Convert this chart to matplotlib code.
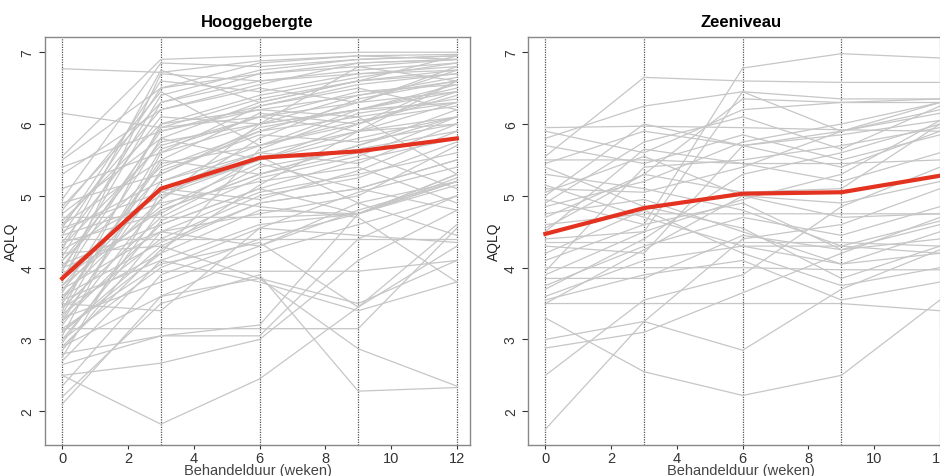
import matplotlib
matplotlib.use("Agg")
import matplotlib.pyplot as plt

plt.rcParams['font.family'] = ['Liberation Sans', 'DejaVu Sans']

weeks = [0, 3, 6, 9, 12]

# individual patients, AQLQ at weeks 0, 3, 6, 9, 12
hoog_patients = [
    [6.77, 6.72, 6.88, 6.95, 6.97],
    [6.15, 5.95, 6.35, 6.6, 6.75],
    [5.55, 6.9, 6.95, 7.0, 7.0],
    [5.5, 6.5, 6.7, 6.85, 6.9],
    [5.4, 5.9, 6.2, 6.4, 6.6],
    [5.3, 6.2, 6.5, 6.3, 6.8],
    [5.1, 5.6, 6.0, 6.2, 6.5],
    [4.95, 6.85, 6.8, 6.9, 6.95],
    [4.9, 5.3, 5.9, 6.1, 5.3],
    [4.85, 6.3, 6.6, 6.75, 6.85],
    [4.75, 5.8, 6.3, 6.6, 6.7],
    [4.7, 4.7, 4.7, 4.75, 5.2],
    [4.65, 6.0, 6.2, 6.1, 6.3],
    [4.6, 5.5, 5.3, 5.7, 6.2],
    [4.55, 6.6, 6.45, 6.7, 6.8],
    [4.5, 5.2, 5.7, 6.0, 6.6],
    [4.45, 4.9, 5.2, 5.4, 4.9],
    [4.4, 4.4, 4.4, 4.4, 4.4],
    [4.35, 6.1, 6.0, 6.4, 6.65],
    [4.3, 5.7, 6.1, 5.9, 6.0],
    [4.25, 5.0, 5.5, 5.8, 6.1],
    [4.2, 4.3, 4.9, 5.1, 5.5],
    [4.15, 6.4, 6.75, 6.9, 6.95],
    [4.1, 5.4, 5.9, 6.3, 6.45],
    [4.05, 4.6, 5.1, 4.75, 5.3],
    [4.0, 5.9, 6.25, 6.5, 6.2],
    [3.95, 3.95, 3.95, 3.95, 4.1],
    [3.9, 5.1, 5.6, 5.9, 6.3],
    [3.85, 4.8, 5.3, 5.6, 5.1],
    [3.8, 6.7, 6.6, 6.7, 6.75],
    [3.75, 5.3, 5.95, 6.2, 6.55],
    [3.7, 4.5, 4.3, 4.8, 5.2],
    [3.65, 5.8, 5.5, 5.9, 6.1],
    [3.6, 4.95, 5.8, 6.35, 6.6],
    [3.55, 4.1, 4.6, 4.75, 5.15],
    [3.5, 5.5, 6.15, 6.0, 6.4],
    [3.45, 4.7, 5.4, 5.65, 5.9],
    [3.4, 6.0, 6.4, 6.65, 6.85],
    [3.35, 4.4, 5.0, 5.25, 5.75],
    [3.3, 3.8, 4.3, 4.9, 5.2],
    [3.3, 5.2, 5.6, 5.45, 6.0],
    [3.25, 4.6, 5.1, 5.5, 5.8],
    [3.2, 4.95, 6.0, 6.2, 6.3],
    [3.15, 3.15, 3.15, 3.15, 4.55],
    [3.1, 4.2, 4.8, 4.75, 5.25],
    [3.05, 5.6, 6.25, 6.55, 6.7],
    [3.0, 4.0, 4.55, 5.05, 5.4],
    [2.95, 4.8, 5.3, 5.7, 6.1],
    [2.9, 3.6, 3.85, 3.5, 4.1],
    [2.85, 4.5, 5.05, 5.3, 5.6],
    [2.8, 3.05, 3.2, 4.75, 5.2],
    [2.75, 5.05, 5.5, 6.0, 6.45],
    [2.7, 4.1, 3.8, 3.4, 3.8],
    [2.65, 3.05, 3.05, 4.4, 5.0],
    [2.5, 2.67, 3.0, 4.1, 4.8],
    [2.5, 1.82, 2.45, 3.45, 4.6],
    [2.35, 3.9, 4.4, 4.75, 5.3],
    [2.2, 3.5, 3.9, 2.28, 2.33],
    [2.1, 3.6, 4.2, 4.6, 5.0],
    [3.1, 4.3, 3.85, 2.87, 2.35],
    [3.95, 6.3, 6.7, 6.8, 6.6],
    [4.1, 5.75, 6.0, 6.8, 6.9],
    [3.55, 5.45, 5.7, 6.05, 6.25],
    [3.6, 4.35, 4.9, 5.1, 5.5],
    [4.45, 6.5, 6.85, 6.95, 6.9],
    [3.85, 5.95, 6.1, 6.45, 6.55],
    [3.75, 4.85, 5.45, 5.1, 4.8],
    [4.25, 6.75, 6.3, 6.6, 6.95],
    [3.35, 5.65, 6.1, 6.3, 6.75],
    [3.0, 4.65, 5.25, 5.55, 6.1],
    [3.25, 5.35, 5.85, 5.75, 6.0],
    [4.6, 6.2, 6.55, 6.85, 6.9],
    [4.8, 6.45, 5.7, 6.2, 6.45],
    [3.45, 4.2, 5.65, 6.15, 6.35],
    [4.0, 4.5, 4.75, 5.0, 5.7],
    [3.7, 5.1, 4.95, 5.35, 5.9],
    [2.9, 4.25, 5.15, 5.9, 6.6],
    [3.15, 4.05, 4.35, 3.45, 4.3],
    [4.35, 4.75, 5.55, 4.9, 4.45],
    [3.5, 3.4, 4.55, 4.45, 4.35],
    [4.55, 5.05, 4.85, 4.7, 3.8],
]
hoog_mean = [3.85, 5.1, 5.53, 5.62, 5.8]

zee_patients = [
    [5.95, 5.97, 5.95, 5.92, 5.9],
    [5.9, 5.6, 6.2, 6.3, 6.35],
    [5.8, 6.25, 6.45, 5.9, 6.2],
    [5.55, 6.65, 6.6, 6.58, 6.58],
    [5.5, 5.5, 5.45, 5.45, 5.5],
    [5.45, 5.9, 5.7, 5.85, 6.05],
    [5.3, 5.1, 4.8, 4.3, 4.2],
    [5.1, 5.05, 5.4, 5.9, 6.3],
    [5.05, 5.55, 5.0, 4.7, 4.75],
    [5.0, 6.0, 5.7, 5.4, 5.9],
    [4.95, 4.6, 4.9, 4.25, 4.6],
    [4.85, 5.2, 5.75, 6.0, 6.3],
    [4.75, 4.95, 4.5, 4.05, 4.2],
    [4.7, 5.3, 6.35, 6.3, 6.3],
    [4.6, 4.75, 4.75, 4.75, 4.75],
    [4.5, 5.65, 5.45, 5.2, 5.6],
    [4.4, 4.5, 4.95, 5.3, 6.05],
    [4.35, 4.35, 4.35, 4.35, 4.3],
    [4.3, 4.2, 5.7, 5.9, 6.15],
    [4.2, 4.8, 4.2, 3.75, 4.0],
    [4.1, 4.6, 6.78, 6.98, 6.92],
    [4.0, 4.0, 4.0, 3.97, 3.97],
    [3.95, 5.4, 5.5, 5.7, 5.95],
    [3.9, 4.5, 6.45, 6.35, 6.35],
    [3.85, 3.85, 4.45, 4.25, 4.4],
    [3.75, 4.3, 4.7, 4.45, 4.85],
    [3.7, 4.4, 5.3, 5.6, 6.0],
    [3.6, 4.1, 4.3, 4.05, 4.5],
    [3.55, 3.9, 4.1, 3.55, 3.8],
    [3.5, 3.5, 3.5, 3.5, 3.4],
    [3.5, 4.25, 5.0, 4.9, 5.2],
    [3.3, 2.55, 2.22, 2.5, 3.55],
    [3.0, 3.25, 2.85, 3.7, 4.25],
    [2.88, 3.1, 3.65, 4.2, 4.7],
    [2.5, 3.55, 3.9, 4.85, 5.4],
    [1.75, 3.25, 4.4, 4.6, 5.1],
    [5.15, 4.7, 4.3, 4.3, 4.65],
    [4.9, 5.75, 6.1, 5.65, 6.25],
    [5.4, 4.85, 4.55, 3.85, 4.3],
    [4.55, 5.3, 5.05, 5.1, 6.0],
    [5.7, 5.45, 5.85, 5.5, 5.85],
]
zee_mean = [4.47, 4.83, 5.03, 5.05, 5.28]

titles = ["Hooggebergte", "Zeeniveau"]
xticks = [0, 2, 4, 6, 8, 10, 12]
yticks = [2, 3, 4, 5, 6, 7]

fig = plt.figure(figsize=(9.4, 4.77), dpi=100)
ax1 = fig.add_axes([0.048, 0.065, 0.452, 0.855])
ax2 = fig.add_axes([0.562, 0.065, 0.452, 0.855])

for ax, patients, mean, title in [(ax1, hoog_patients, hoog_mean, titles[0]),
                                  (ax2, zee_patients, zee_mean, titles[1])]:
    for p in patients:
        ax.plot(weeks, p, color="#c6c6c6", lw=0.9, zorder=2)
    for w in weeks:
        ax.axvline(w, color="#555555", lw=0.9, ls=(0, (1, 1)), zorder=1)
    ax.plot(weeks, mean, color="#e3321f", lw=3, zorder=4)
    ax.set_xlim(-0.52, 12.4)
    ax.set_ylim(1.53, 7.21)
    ax.set_xticks(xticks)
    ax.set_yticks(yticks)
    ax.tick_params(axis="y", labelrotation=90, labelsize=10, colors="#333333", length=4)
    ax.tick_params(axis="x", labelsize=10.5, colors="#333333", length=3, pad=1)
    for lab in ax.get_yticklabels():
        lab.set_va("center")
    for s in ax.spines.values():
        s.set_color("#888888")
        s.set_linewidth(1)
    ax.set_title(title, fontsize=12, fontweight="bold", pad=8)
    ax.set_xlabel("Behandelduur (weken)", fontsize=10.5, color="#444444", labelpad=-1)
    ax.set_ylabel("AQLQ", fontsize=10, color="#222222", labelpad=2)

fig.savefig("out.png", dpi=100)
